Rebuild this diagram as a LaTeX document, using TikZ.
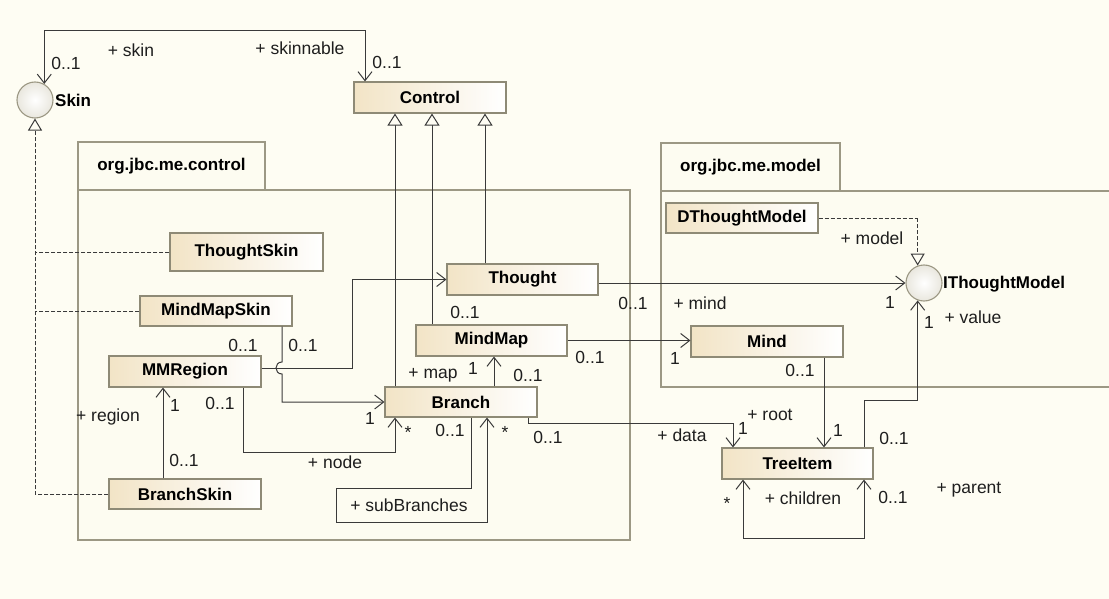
\documentclass[tikz,border=0pt]{standalone}
\usepackage{fontspec}
\setmainfont{Liberation Sans}
\usetikzlibrary{arrows.meta}

\definecolor{bgcol}{HTML}{FEFDF3}
\definecolor{pkgfill}{HTML}{FDFCF1}
\definecolor{pkgline}{HTML}{9C9884}
\definecolor{boxline}{HTML}{8E8A76}
\definecolor{tanL}{HTML}{F2E4C6}
\definecolor{circcol}{HTML}{E9E7DE}
\definecolor{linecol}{HTML}{3A3A3A}
\definecolor{txtcol}{HTML}{1E1E1E}

\tikzset{
  cls/.style={draw=boxline, line width=1.1pt, left color=tanL, right color=white,
    minimum width=152pt, minimum height=31pt, inner sep=0pt,
    font=\bfseries\fontsize{17}{20}\selectfont},
  pkgtab/.style={draw=pkgline, line width=1.2pt, fill=pkgfill, inner sep=0pt,
    font=\bfseries\fontsize{17}{20}\selectfont},
  pkgbody/.style={draw=pkgline, line width=1.2pt, fill=pkgfill, inner sep=0pt},
  iface/.style={circle, draw=pkgline, line width=1.1pt, inner color=white,
    outer color=circcol, minimum size=36pt, inner sep=0pt},
  ifname/.style={anchor=west, inner sep=0pt, font=\bfseries\fontsize{17}{20}\selectfont},
  lbl/.style={inner sep=0pt, text=txtcol, font=\fontsize{17.5}{20}\selectfont},
  barb/.tip={Straight Barb[length=9pt,width=14pt]},
  assoc/.style={draw=linecol, line width=1pt, -barb},
  assocboth/.style={draw=linecol, line width=1pt, barb-barb},
  general/.style={draw=linecol, line width=1pt,
    -{Triangle[open, length=12pt, width=15pt, fill=bgcol]}},
  realize/.style={draw=linecol, line width=1pt, dash pattern=on 4pt off 2pt,
    -{Triangle[open, length=12pt, width=14pt, fill=bgcol]}},
  realizeline/.style={draw=linecol, line width=1pt, dash pattern=on 4pt off 2pt}
}

\begin{document}
\begin{tikzpicture}[x=1pt,y=-1pt]
  % canvas
  \fill[bgcol] (0,0) rectangle (1109,599);
  \useasboundingbox (0,0) rectangle (1109,599);

  % packages
  \node[pkgbody, minimum width=552pt, minimum height=350pt] (ctrlbody) at (354,365) {};
  \node[pkgtab, minimum width=187pt, minimum height=48pt] (ctrltab) at (171.5,166) {org.jbc.me.control};
  \fill[pkgfill] (661,191) rectangle (1115,387);
  \draw[pkgline, line width=1.2pt] (1115,191) -- (661,191) -- (661,387) -- (1115,387);
  \node[pkgtab, minimum width=179pt, minimum height=48pt] (modeltab) at (750.5,167) {org.jbc.me.model};

  % interfaces
  \node[iface] (skin) at (35,100) {};
  \node[ifname] (skinname) at (55,100) {Skin};
  \node[iface] (ithought) at (924,283) {};
  \node[ifname] (ithoughtname) at (943,284) {IThoughtModel};

  % classes
  \node[cls] (control) at (430,97.5) {Control};
  \node[cls, minimum width=153pt, minimum height=38pt] (thoughtskin) at (246.5,252) {ThoughtSkin};
  \node[cls, minimum height=30pt] (mindmapskin) at (216,311) {MindMapSkin};
  \node[cls] (mmregion) at (185,371.5) {MMRegion};
  \node[cls, minimum height=30pt] (branchskin) at (185,494) {BranchSkin};
  \node[cls, minimum width=151pt] (thought) at (522.5,279.5) {Thought};
  \node[cls, minimum width=151pt] (mindmap) at (491.5,340.5) {MindMap};
  \node[cls, minimum height=30pt] (branch) at (461,402) {Branch};
  \node[cls] (mind) at (767,341.5) {Mind};
  \node[cls, minimum height=30pt] (dthought) at (742,218) {DThoughtModel};
  \node[cls, minimum width=151pt] (treeitem) at (797.5,463.5) {TreeItem};

  % skin realizations
  \draw[realize] (branchskin.west) -| (skin.south);
  \draw[realizeline] (thoughtskin.west) -- (skin.south |- thoughtskin.west);
  \draw[realizeline] (mindmapskin.west) -- (skin.south |- mindmapskin.west);

  % model realization
  \draw[realizeline] (dthought.east) -- (ithought.110 |- dthought.east);
  \draw[realize] (ithought.110 |- dthought.east) -- (ithought.110);

  % generalizations to Control
  \draw[general] (395,0 |- branch.north) -- (395,0 |- control.south);
  \draw[general] (432,0 |- mindmap.north) -- (432,0 |- control.south);
  \draw[general] (485,0 |- thought.north) -- (485,0 |- control.south);

  % skin / skinnable
  \draw[assocboth] (skin.60) -- (skin.60 |- 0,31) -- (365,31) -- (365,0 |- control.north);

  % MMRegion -> Thought
  \draw[assoc] (mmregion.east |- 0,368) -- (352,368) -- (352,0 |- thought.west) -- (thought.west);

  % MindMapSkin -> Branch, hopping over the line above
  \draw[assoc] (282,0 |- mindmapskin.south) -- (282,362)
    .. controls (274,362) and (274,374) .. (282,374)
    -- (282,0 |- branch.west) -- (branch.west);

  % BranchSkin -> MMRegion
  \draw[assoc] (163,0 |- branchskin.north) -- (163,0 |- mmregion.south);

  % MMRegion -> Branch (node)
  \draw[assoc] (243,0 |- mmregion.south) -- (243,452) -- (395,452) -- (395,0 |- branch.south);

  % Branch -> MindMap
  \draw[assoc] (494,0 |- branch.north) -- (494,0 |- mindmap.south);

  % Branch sub-branches
  \draw[assoc] (471,0 |- branch.south) -- (471,488) -- (336,488) -- (336,522)
    -- (487,522) -- (487,0 |- branch.south);

  % MindMap -> Mind
  \draw[assoc] (mindmap.east) -- (mind.west |- mindmap.east);

  % Thought -> IThoughtModel
  \draw[assoc] (thought.east |- ithought.west) -- (ithought.west);

  % Branch -> TreeItem
  \draw[assoc] (528,0 |- branch.south) -- (528,423) -- (733,423) -- (733,0 |- treeitem.north);

  % Mind -> TreeItem
  \draw[assoc] (824,0 |- mind.south) -- (824,0 |- treeitem.north);

  % TreeItem -> IThoughtModel
  \draw[assoc] (864,0 |- treeitem.north) -- (864,400) -- (ithought.-110 |- 0,400) -- (ithought.-110);

  % TreeItem children / parent
  \draw[assocboth] (864,0 |- treeitem.south) -- (864,538) -- (743,538) -- (743,0 |- treeitem.south);

  % role names and multiplicities
  \node[lbl] (mSkinA) at (66,63) {0..1};
  \node[lbl] (rSkin) at (131,50) {+ skin};
  \node[lbl] (rSkinnable) at (300,48) {+ skinnable};
  \node[lbl] (mCtrl) at (387,62) {0..1};
  \node[lbl] (mMMSkin) at (303,345) {0..1};
  \node[lbl] (mMMRegT) at (243,345) {0..1};
  \node[lbl] (mBrL) at (370,418) {1};
  \node[lbl] (mRegA) at (175,405) {1};
  \node[lbl] (mRegB) at (184,460) {0..1};
  \node[lbl] (rRegion) at (108,417) {+ region};
  \node[lbl] (mNodeA) at (220,403) {0..1};
  \node[lbl] (rNode) at (335,462) {+ node};
  \node[lbl] (mNodeB) at (408,432) {*};
  \node[lbl] (mThought) at (465,312) {0..1};
  \node[lbl] (rMap) at (433,375) {+ map};
  \node[lbl] (mMapA) at (473,368) {1};
  \node[lbl] (mMapB) at (528,375) {0..1};
  \node[lbl] (mMindA) at (590,357) {0..1};
  \node[lbl] (mMindB) at (675,358) {1};
  \node[lbl] (rMind) at (700,303) {+ mind};
  \node[lbl] (mITA) at (633,303) {0..1};
  \node[lbl] (mITB) at (890,302) {1};
  \node[lbl] (mDataA) at (548,437) {0..1};
  \node[lbl] (rData) at (682,435) {+ data};
  \node[lbl] (mDataB) at (743,428) {1};
  \node[lbl] (rRoot) at (770,415) {+ root};
  \node[lbl] (mSubA) at (450,430) {0..1};
  \node[lbl] (mSubB) at (505,432) {*};
  \node[lbl] (rSub) at (409,505) {+ subBranches};
  \node[lbl] (mRootA) at (800,370) {0..1};
  \node[lbl] (mRootB) at (838,430) {1};
  \node[lbl] (mValA) at (894,438) {0..1};
  \node[lbl] (mValB) at (929,322) {1};
  \node[lbl] (rValue) at (973,317) {+ value};
  \node[lbl] (mChA) at (727,503) {*};
  \node[lbl] (rChildren) at (803,498) {+ children};
  \node[lbl] (mChB) at (893,497) {0..1};
  \node[lbl] (rParent) at (969,490) {+ parent};
  \node[lbl] (rModel) at (872,238) {+ model};
\end{tikzpicture}
\end{document}
